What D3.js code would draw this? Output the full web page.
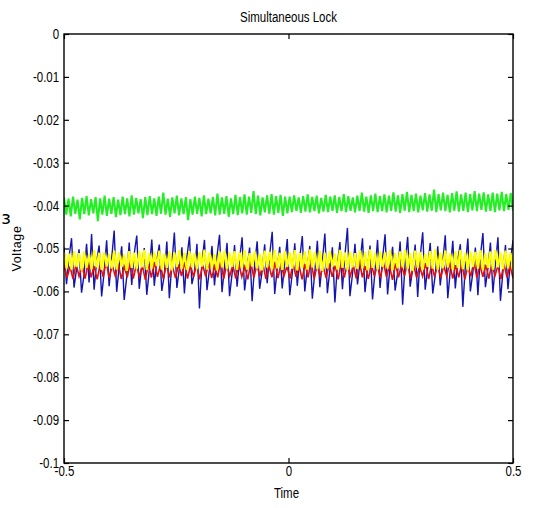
<!DOCTYPE html>
<html>
<head>
<meta charset="utf-8">
<script src="https://cdn.jsdelivr.net/npm/d3@7"></script>
<style>
  body { margin: 0; background: #fff; }
  text { font-family: "Liberation Sans", Arial, sans-serif; }
</style>
</head>
<body>
<div id="chart"></div>
<script>
var margin = {top: 34, right: 29, bottom: 45, left: 64},
    width = 542 - margin.left - margin.right,
    height = 508 - margin.top - margin.bottom;

// tick values
let xTicks = [-0.5, 0, 0.5];
let yTicks = [0, -0.01, -0.02, -0.03, -0.04, -0.05, -0.06, -0.07, -0.08, -0.09, -0.1];

// series values (Voltage), sampled evenly over Time -0.5 .. 0.5
let green = [
  -0.0381,-0.0421,-0.0384,-0.0425,-0.0379,-0.0419,-0.0386,-0.0432,-0.0382,-0.0420,
  -0.0378,-0.0423,-0.0385,-0.0418,-0.0380,-0.0436,-0.0383,-0.0421,-0.0377,-0.0424,
  -0.0384,-0.0419,-0.0380,-0.0427,-0.0386,-0.0422,-0.0379,-0.0420,-0.0383,-0.0425,
  -0.0376,-0.0421,-0.0382,-0.0418,-0.0385,-0.0429,-0.0380,-0.0422,-0.0378,-0.0420,
  -0.0383,-0.0424,-0.0379,-0.0419,-0.0370,-0.0421,-0.0384,-0.0426,-0.0381,-0.0418,
  -0.0377,-0.0423,-0.0383,-0.0420,-0.0380,-0.0434,-0.0385,-0.0421,-0.0379,-0.0419,
  -0.0382,-0.0425,-0.0376,-0.0420,-0.0384,-0.0418,-0.0380,-0.0423,-0.0372,-0.0421,
  -0.0381,-0.0419,-0.0378,-0.0426,-0.0383,-0.0420,-0.0375,-0.0422,-0.0380,-0.0418,
  -0.0374,-0.0421,-0.0379,-0.0417,-0.0366,-0.0420,-0.0377,-0.0423,-0.0381,-0.0416,
  -0.0376,-0.0419,-0.0373,-0.0421,-0.0378,-0.0417,-0.0375,-0.0424,-0.0379,-0.0418,
  -0.0379,-0.0415,-0.0376,-0.0413,-0.0381,-0.0417,-0.0378,-0.0414,-0.0374,-0.0416,
  -0.0380,-0.0413,-0.0377,-0.0418,-0.0382,-0.0414,-0.0375,-0.0415,-0.0379,-0.0412,
  -0.0376,-0.0417,-0.0380,-0.0413,-0.0373,-0.0415,-0.0378,-0.0412,-0.0381,-0.0416,
  -0.0377,-0.0412,-0.0370,-0.0414,-0.0379,-0.0417,-0.0376,-0.0413,-0.0372,-0.0415,
  -0.0378,-0.0413,-0.0374,-0.0416,-0.0377,-0.0412,-0.0369,-0.0414,-0.0376,-0.0417,
  -0.0373,-0.0412,-0.0368,-0.0415,-0.0375,-0.0413,-0.0372,-0.0416,-0.0377,-0.0411,
  -0.0371,-0.0414,-0.0374,-0.0412,-0.0363,-0.0415,-0.0373,-0.0411,-0.0370,-0.0413,
  -0.0375,-0.0416,-0.0371,-0.0412,-0.0367,-0.0414,-0.0374,-0.0412,-0.0370,-0.0415,
  -0.0373,-0.0411,-0.0366,-0.0413,-0.0372,-0.0410,-0.0369,-0.0414,-0.0374,-0.0412,
  -0.0370,-0.0415,-0.0372,-0.0411,-0.0368,-0.0413,-0.0373,-0.0410,-0.0371,-0.0412
];

let yellow = [
  -0.0509,-0.0546,-0.0512,-0.0549,-0.0506,-0.0543,-0.0511,-0.0551,-0.0507,-0.0545,
  -0.0513,-0.0548,-0.0504,-0.0544,-0.0510,-0.0550,-0.0508,-0.0542,-0.0512,-0.0547,
  -0.0505,-0.0549,-0.0509,-0.0543,-0.0514,-0.0552,-0.0506,-0.0545,-0.0510,-0.0548,
  -0.0507,-0.0544,-0.0503,-0.0550,-0.0511,-0.0546,-0.0508,-0.0541,-0.0505,-0.0549,
  -0.0512,-0.0545,-0.0507,-0.0551,-0.0509,-0.0543,-0.0504,-0.0547,-0.0510,-0.0550,
  -0.0506,-0.0544,-0.0511,-0.0548,-0.0508,-0.0542,-0.0503,-0.0549,-0.0509,-0.0546,
  -0.0513,-0.0551,-0.0507,-0.0544,-0.0505,-0.0548,-0.0510,-0.0543,-0.0506,-0.0550,
  -0.0509,-0.0545,-0.0504,-0.0549,-0.0511,-0.0542,-0.0507,-0.0547,-0.0512,-0.0551,
  -0.0505,-0.0544,-0.0508,-0.0548,-0.0503,-0.0546,-0.0510,-0.0550,-0.0506,-0.0543,
  -0.0509,-0.0547,-0.0504,-0.0551,-0.0511,-0.0545,-0.0507,-0.0549,-0.0502,-0.0544,
  -0.0508,-0.0548,-0.0505,-0.0552,-0.0510,-0.0546,-0.0506,-0.0543,-0.0512,-0.0549,
  -0.0503,-0.0545,-0.0509,-0.0550,-0.0507,-0.0544,-0.0511,-0.0548,-0.0504,-0.0546,
  -0.0508,-0.0551,-0.0502,-0.0545,-0.0510,-0.0549,-0.0506,-0.0543,-0.0509,-0.0547,
  -0.0504,-0.0550,-0.0511,-0.0546,-0.0507,-0.0544,-0.0503,-0.0548,-0.0510,-0.0552,
  -0.0505,-0.0545,-0.0508,-0.0549,-0.0512,-0.0543,-0.0506,-0.0547,-0.0502,-0.0550,
  -0.0509,-0.0546,-0.0505,-0.0544,-0.0511,-0.0549,-0.0507,-0.0545,-0.0503,-0.0548,
  -0.0510,-0.0551,-0.0506,-0.0543,-0.0508,-0.0547,-0.0504,-0.0550,-0.0511,-0.0545,
  -0.0507,-0.0549,-0.0503,-0.0544,-0.0509,-0.0548,-0.0505,-0.0546,-0.0510,-0.0550
];

let red = [
  -0.0538,-0.0568,-0.0542,-0.0571,-0.0536,-0.0565,-0.0540,-0.0570,-0.0534,-0.0567,
  -0.0541,-0.0572,-0.0537,-0.0566,-0.0530,-0.0569,-0.0539,-0.0564,-0.0535,-0.0571,
  -0.0542,-0.0567,-0.0533,-0.0570,-0.0538,-0.0565,-0.0540,-0.0573,-0.0536,-0.0568,
  -0.0531,-0.0566,-0.0539,-0.0571,-0.0535,-0.0567,-0.0541,-0.0569,-0.0537,-0.0564,
  -0.0532,-0.0570,-0.0540,-0.0566,-0.0536,-0.0572,-0.0538,-0.0565,-0.0534,-0.0569,
  -0.0541,-0.0567,-0.0529,-0.0571,-0.0537,-0.0564,-0.0539,-0.0570,-0.0535,-0.0566,
  -0.0542,-0.0572,-0.0533,-0.0568,-0.0538,-0.0565,-0.0536,-0.0571,-0.0540,-0.0567,
  -0.0531,-0.0569,-0.0537,-0.0564,-0.0541,-0.0570,-0.0534,-0.0566,-0.0539,-0.0572,
  -0.0536,-0.0567,-0.0530,-0.0571,-0.0538,-0.0565,-0.0542,-0.0569,-0.0535,-0.0566,
  -0.0540,-0.0572,-0.0533,-0.0568,-0.0537,-0.0564,-0.0539,-0.0570,-0.0528,-0.0567,
  -0.0541,-0.0571,-0.0536,-0.0565,-0.0538,-0.0569,-0.0532,-0.0566,-0.0540,-0.0573,
  -0.0535,-0.0567,-0.0539,-0.0564,-0.0531,-0.0570,-0.0537,-0.0568,-0.0542,-0.0565,
  -0.0534,-0.0571,-0.0538,-0.0566,-0.0536,-0.0569,-0.0540,-0.0564,-0.0533,-0.0570,
  -0.0539,-0.0567,-0.0535,-0.0572,-0.0541,-0.0565,-0.0530,-0.0568,-0.0537,-0.0566,
  -0.0538,-0.0570,-0.0534,-0.0564,-0.0540,-0.0571,-0.0536,-0.0567,-0.0539,-0.0569
];

let blue = [
  -0.0497,-0.0583,-0.0520,-0.0476,-0.0591,-0.0548,-0.0502,-0.0603,-0.0561,-0.0489,
  -0.0579,-0.0466,-0.0596,-0.0531,-0.0493,-0.0612,-0.0555,-0.0481,-0.0588,-0.0524,
  -0.0458,-0.0601,-0.0542,-0.0495,-0.0620,-0.0567,-0.0486,-0.0585,-0.0512,-0.0470,
  -0.0594,-0.0539,-0.0499,-0.0608,-0.0551,-0.0479,-0.0587,-0.0527,-0.0491,-0.0599,
  -0.0561,-0.0484,-0.0616,-0.0535,-0.0463,-0.0592,-0.0546,-0.0497,-0.0605,-0.0520,
  -0.0472,-0.0583,-0.0556,-0.0489,-0.0640,-0.0531,-0.0480,-0.0597,-0.0549,-0.0494,
  -0.0586,-0.0517,-0.0468,-0.0602,-0.0542,-0.0487,-0.0611,-0.0559,-0.0492,-0.0589,
  -0.0525,-0.0474,-0.0598,-0.0546,-0.0498,-0.0623,-0.0537,-0.0483,-0.0594,-0.0552,
  -0.0490,-0.0581,-0.0514,-0.0461,-0.0606,-0.0547,-0.0496,-0.0593,-0.0533,-0.0478,
  -0.0609,-0.0558,-0.0488,-0.0587,-0.0521,-0.0471,-0.0600,-0.0543,-0.0494,-0.0617,
  -0.0555,-0.0482,-0.0590,-0.0529,-0.0465,-0.0604,-0.0549,-0.0497,-0.0626,-0.0538,
  -0.0485,-0.0595,-0.0516,-0.0452,-0.0611,-0.0560,-0.0489,-0.0584,-0.0532,-0.0476,
  -0.0602,-0.0545,-0.0493,-0.0619,-0.0553,-0.0480,-0.0592,-0.0523,-0.0467,-0.0607,
  -0.0540,-0.0496,-0.0598,-0.0557,-0.0484,-0.0631,-0.0534,-0.0473,-0.0589,-0.0548,
  -0.0491,-0.0613,-0.0519,-0.0462,-0.0596,-0.0544,-0.0487,-0.0605,-0.0562,-0.0495,
  -0.0586,-0.0530,-0.0469,-0.0616,-0.0551,-0.0482,-0.0593,-0.0526,-0.0490,-0.0636,
  -0.0541,-0.0477,-0.0600,-0.0555,-0.0498,-0.0609,-0.0518,-0.0464,-0.0590,-0.0547,
  -0.0486,-0.0603,-0.0536,-0.0474,-0.0622,-0.0553,-0.0492,-0.0595,-0.0528,-0.0481
];

// drawn in this order, last on top
let series = [
  {name: "blue", values: blue, color: "#1414b0", w: 1.4},
  {name: "red", values: red, color: "#e01010", w: 1.6},
  {name: "yellow", values: yellow, color: "#ffff00", w: 2.2},
  {name: "green", values: green, color: "#22f022", w: 2.1}
];

var svg = d3.select("#chart").append("svg")
    .attr("width", width + margin.left + margin.right)
    .attr("height", height + margin.top + margin.bottom)
    .style("background", "#fff");

var g = svg.append("g")
    .attr("transform", "translate(" + margin.left + "," + margin.top + ")");

var x = d3.scaleLinear().domain([-0.5, 0.5]).range([0, width]);
var y = d3.scaleLinear().domain([-0.1, 0]).range([height, 0]);

g.append("clipPath").attr("id", "clip")
  .append("rect").attr("width", width).attr("height", height);

series.forEach(function(s){
    let n = s.values.length;
    let line = d3.line()
        .x(function(d, i){ return x(-0.5 + i / (n - 1)); })
        .y(function(d){ return y(d); });
    g.append("path")
        .datum(s.values)
        .attr("clip-path", "url(#clip)")
        .attr("fill", "none")
        .attr("stroke", s.color)
        .attr("stroke-width", s.w)
        .attr("d", line);
});

// matlab style labels: plain hyphen, no trailing zeros
var fmt = function(d){ return String(+d.toFixed(2)); };

g.append("g")
    .call(d3.axisLeft(y).tickValues(yTicks).tickFormat(fmt).tickSize(-5).tickSizeOuter(0).tickPadding(6));
g.append("g")
    .attr("transform", "translate(" + width + ",0)")
    .call(d3.axisRight(y).tickValues(yTicks).tickFormat("").tickSize(-5).tickSizeOuter(0));
g.append("g")
    .attr("transform", "translate(0," + height + ")")
    .call(d3.axisBottom(x).tickValues(xTicks).tickFormat(fmt).tickSize(-5).tickSizeOuter(0).tickPadding(3));
g.append("g")
    .call(d3.axisTop(x).tickValues(xTicks).tickFormat("").tickSize(-5).tickSizeOuter(0));

g.selectAll(".domain").remove();
g.selectAll(".tick line").attr("stroke", "#000").attr("stroke-width", 1.2);
// narrow the glyphs like the original
g.selectAll(".tick text")
    .attr("fill", "#000")
    .attr("transform", "scale(0.82,1)")
    .style("font-family", "'Liberation Sans', Arial, sans-serif")
    .style("font-size", "14px");

g.append("rect")
    .attr("width", width)
    .attr("height", height)
    .attr("fill", "none")
    .attr("stroke", "#000")
    .attr("stroke-width", 1.4);

// labels
svg.append("g")
    .attr("transform", "translate(" + (margin.left + width / 2) + ",22)")
  .append("text")
    .attr("transform", "scale(0.82,1)")
    .attr("text-anchor", "middle")
    .style("font-size", "14px")
    .text("Simultaneous Lock");

svg.append("g")
    .attr("transform", "translate(" + (margin.left + width / 2 - 2) + ",498)")
  .append("text")
    .attr("transform", "scale(0.82,1)")
    .attr("text-anchor", "middle")
    .style("font-size", "14px")
    .text("Time");

svg.append("text")
    .attr("transform", "translate(21," + (margin.top + height / 2) + ") rotate(-90)")
    .attr("text-anchor", "middle")
    .style("font-size", "12.5px")
    .style("letter-spacing", "0.6px")
    .text("Voltage");

svg.append("text")
    .attr("x", 6)
    .attr("y", 224)
    .attr("text-anchor", "middle")
    .style("font-family", "'DejaVu Sans', sans-serif")
    .style("font-size", "18px")
    .text("ɜ");
</script>
</body>
</html>
